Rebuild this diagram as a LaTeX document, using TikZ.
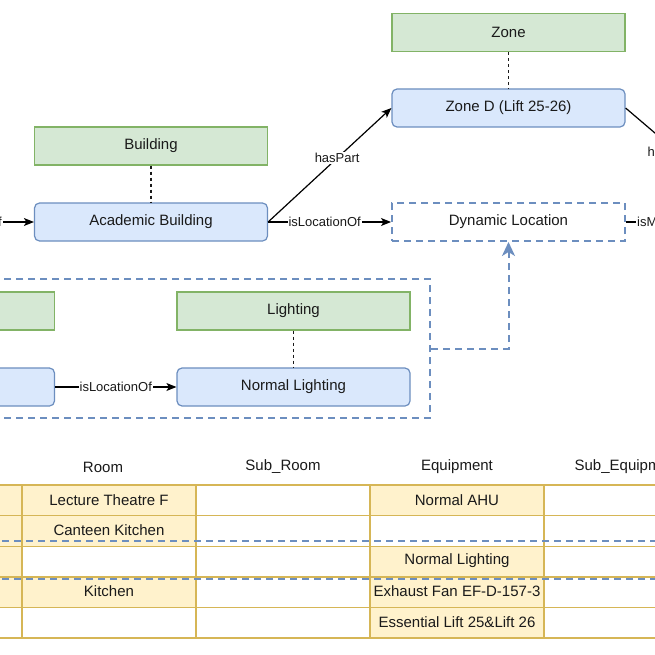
\documentclass[tikz,border=0pt]{standalone}
\usepackage{fontspec}
\setmainfont{Liberation Sans}
\usetikzlibrary{arrows.meta}
\definecolor{gfill}{HTML}{D5E8D4}
\definecolor{gline}{HTML}{82B366}
\definecolor{bfill}{HTML}{DAE8FC}
\definecolor{bline}{HTML}{6C8EBF}
\definecolor{yfill}{HTML}{FFF2CC}
\definecolor{yline}{HTML}{D6B656}
\definecolor{txt}{HTML}{1A1A1A}
\begin{document}
\begin{tikzpicture}[x=1pt,y=-1pt,
 base/.style={inner sep=0pt, text=txt, font=\fontsize{15}{18}\selectfont, minimum width=233pt, minimum height=38pt},
 cls/.style={base, rectangle, fill=gfill, draw=gline, line width=1.2pt},
 inst/.style={base, rectangle, rounded corners=5pt, fill=bfill, draw=bline, line width=1.2pt},
 dynbox/.style={base, draw=bline, line width=2pt, dash pattern=on 7pt off 5pt},
 typeln/.style={line width=1.2pt, txt, dash pattern=on 3pt off 3pt},
 rel/.style={line width=1.2pt, -{Stealth[length=10pt,width=8pt,inset=2.5pt]}},
 plainrel/.style={line width=1.2pt},
 lbl/.style={fill=white, inner sep=1pt, text=txt, font=\fontsize{13}{15}\selectfont},
 dynln/.style={draw=bline, line width=2pt, dash pattern=on 7pt off 5pt},
 celltxt/.style={text=txt, font=\fontsize{15}{18}\selectfont, inner sep=0pt},
 ycell/.style={fill=yfill},
 grid/.style={draw=yline, line width=1.4pt},
]
\useasboundingbox (0,0) rectangle (655,655);
\fill[white] (0,0) rectangle (655,655);

% ---------- top graph ----------
\node[cls]  (zone)     at (508.5,32.5) {Zone};
\node[inst] (zoneD)    at (508.5,108)  {Zone D (Lift 25-26)};
\node[cls]  (building) at (151,146)    {Building};
\node[inst] (acad)     at (151,222)    {Academic Building};
\node[dynbox] (dyn)    at (508.5,222)  {Dynamic Location};

\draw[typeln] (zone.south) -- (zoneD.north);
\draw[typeln] (building.south) -- (acad.north);

\coordinate (inL) at (-60,222);
\draw[rel] (inL) -- (acad.west);
\node[lbl, anchor=east] (lblIn) at (3,222) {isPartOf};

\draw[rel] (acad.east) -- (zoneD.west) node[lbl, pos=0.56] (lblHP) {hasPart};
\draw[rel] (acad.east) -- (dyn.west) node[lbl, pos=0.46] (lblLoc) {isLocationOf};

\coordinate (zR) at (730,197);
\draw[plainrel] (zoneD.east) -- (zR);
\node[lbl] (lblHP2) at (670,152) {hasPart};

\coordinate (dR) at (720,222);
\draw[plainrel] (dyn.east) -- (dR);
\node[lbl, anchor=west] (lblM) at (636,222) {isMemberOf};

% ---------- dashed group ----------
\node[cls]  (leftcls)  at (-62,311)    {};
\node[inst] (leftinst) at (-62,387)    {};
\node[cls]  (lighting) at (293.5,311)  {Lighting};
\node[inst] (normL)    at (293.5,387)  {Normal Lighting};
\draw[typeln] (lighting.south) -- (normL.north);
\draw[rel] (leftinst.east) -- (normL.west) node[lbl, midway] (lblLoc2) {isLocationOf};

\node[dynbox, minimum width=630pt, minimum height=139pt] (grp) at (115,348.5) {};
\draw[dynln, -{Stealth[length=14pt,width=13pt,inset=4pt]}] (grp.east) -| (dyn.south);

% ---------- table ----------
\def\ra{485}\def\rb{515.6}\def\rc{546.2}\def\rd{576.8}\def\re{607.4}\def\rf{638}
% yellow cells
\fill[ycell] (-152,\ra) rectangle (22,\re);
\fill[ycell] (22,\ra) rectangle (196,\rc);
\fill[ycell] (22,\rd) rectangle (196,\re);
\fill[ycell] (370,\ra) rectangle (544,\rb);
\fill[ycell] (370,\rc) rectangle (544,\rf);
% grid
\foreach \yy in {\ra,\rb,\rc,\rd,\re,\rf} { \draw[grid] (-10,\yy) -- (665,\yy); }
\foreach \xx in {22,196,370,544} { \draw[grid] (\xx,\ra) -- (\xx,\rf); }

% headers
\node[celltxt] (hRoom)  at (103,467) {Room};
\node[celltxt] (hSubR)  at (283,467) {Sub\_Room};
\node[celltxt] (hEq)    at (457,467) {Equipment};
\node[celltxt] (hSubEq) at (628,467) {Sub\_Equipment};

% cells
\node[celltxt] (c11) at (109,500.5) {Lecture Theatre F};
\node[celltxt] (c21) at (109,530.5) {Canteen Kitchen};
\node[celltxt] (c41) at (109,591.5) {Kitchen};
\node[celltxt] (c13) at (457,500.5) {Normal AHU};
\node[celltxt] (c33) at (457,561)   {Normal Lighting};
\node[celltxt] (c43) at (457,591.5) {Exhaust Fan EF-D-157-3};
\node[celltxt] (c53) at (457,622)   {Essential Lift 25\&Lift 26};

% dashed highlight lines
\draw[dynln] (-10,541) -- (665,541);
\draw[dynln] (-10,579) -- (665,579);
\end{tikzpicture}
\end{document}
